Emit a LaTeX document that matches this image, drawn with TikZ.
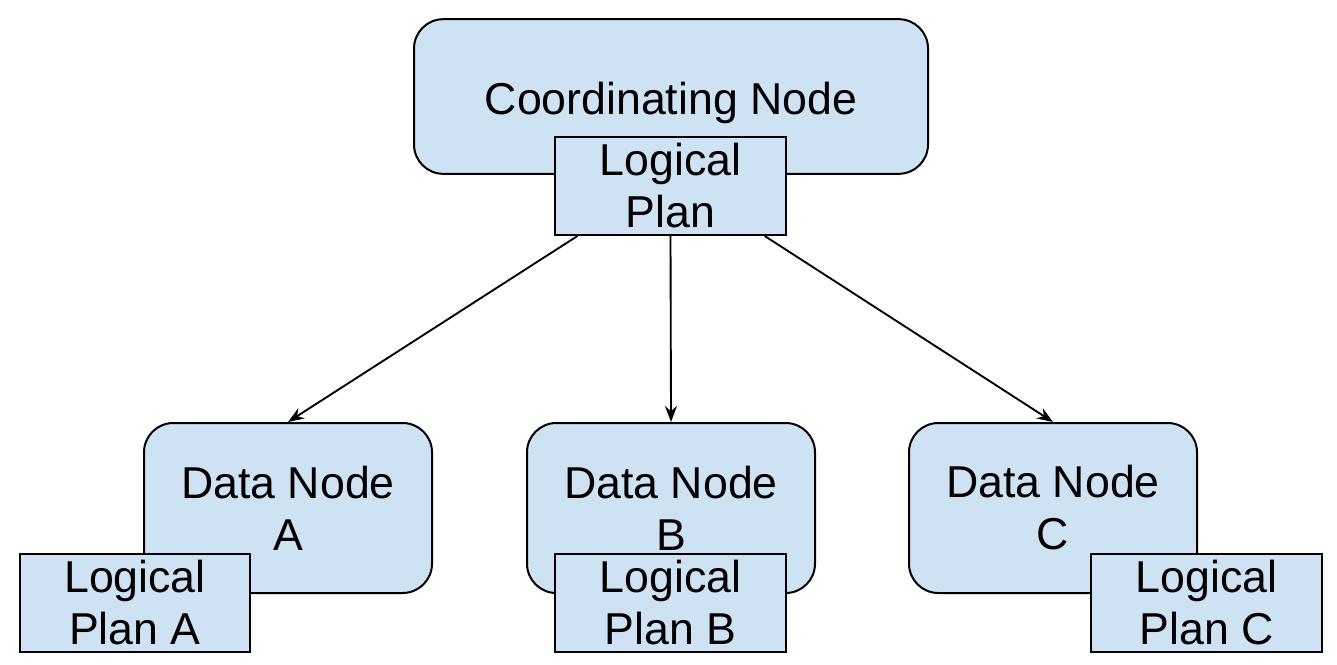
\documentclass[tikz,border=0pt]{standalone}
\usepackage{fontspec}
\setmainfont{Liberation Sans}
\usetikzlibrary{arrows.meta,calc}
\definecolor{boxfill}{HTML}{CFE2F3}
\tikzset{
  roundbox/.style={draw=black, line width=1.5pt, fill=boxfill, rounded corners=22pt, align=center, inner sep=0pt},
  planbox/.style={draw=black, line width=1.5pt, fill=boxfill, align=center, inner sep=0pt},
  conn/.style={draw=black, line width=1.4pt, -{Stealth[length=12pt,width=9pt]}},
  every node/.style={font=\fontsize{33.5}{39}\selectfont}
}
\begin{document}
\begin{tikzpicture}[x=0.75pt,y=-0.75pt]
\useasboundingbox (0,0) rectangle (1337,664);
% coordinating node
\node[roundbox, minimum width=385.5pt, minimum height=116pt] (coord) at (671,96.5) {};
\node at (671,103) {Coordinating Node};
\node[planbox, minimum width=173pt, minimum height=73.5pt] (lp) at (670.5,186) {Logical\\Plan};
% data nodes
\node[roundbox, minimum width=216pt, minimum height=127.5pt] (dA) at (288,508) {Data Node\\A};
\node[planbox, minimum width=172.5pt, minimum height=73.5pt] (lpA) at (135,603) {Logical\\Plan A};
\node[roundbox, minimum width=216pt, minimum height=127.5pt] (dB) at (671,508) {Data Node\\B};
\node[planbox, minimum width=173pt, minimum height=73.5pt] (lpB) at (670.5,603) {Logical\\Plan B};
\node[roundbox, minimum width=216pt, minimum height=127.5pt] (dC) at (1053,508) {Data Node\\C};
\node[planbox, minimum width=173pt, minimum height=73.5pt] (lpC) at (1206.5,603) {Logical\\Plan C};
% connectors
\draw[conn] ($(lp.south west)!0.1!(lp.south east)$) -- (dA.north);
\draw[conn] (lp.south) -- (dB.north);
\draw[conn] ($(lp.south west)!0.905!(lp.south east)$) -- (dC.north);
\end{tikzpicture}
\end{document}
